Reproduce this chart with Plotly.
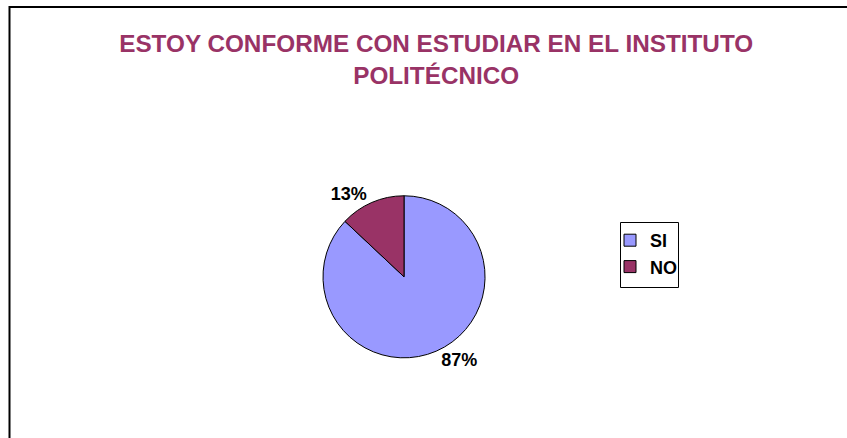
import plotly.graph_objects as go

labels = ["SI", "NO"]
values = [87, 13]
colors = ["#9999FF", "#993366"]
title_lines = ["ESTOY CONFORME CON ESTUDIAR EN EL INSTITUTO", "POLITÉCNICO"]

W, H = 847, 438
FONT = "Liberation Sans, Arial, sans-serif"

fig = go.Figure()
fig.add_trace(go.Pie(
    labels=labels,
    values=values,
    sort=False,
    direction="clockwise",
    rotation=0,
    marker=dict(colors=colors, line=dict(color="black", width=1)),
    textinfo="percent",
    textposition="outside",
    textfont=dict(family=FONT, size=18, color="black", weight="bold"),
    domain=dict(x=[0.381, 0.573], y=[0.183, 0.553]),
    showlegend=True,
    hoverinfo="label+percent",
))

fig.update_layout(
    width=W, height=H,
    margin=dict(l=0, r=0, t=0, b=0),
    paper_bgcolor="white",
    plot_bgcolor="white",
    title=dict(
        text="<br>".join(title_lines),
        x=0.515, xanchor="center",
        y=1 - 52 / H, yanchor="top",
        font=dict(family=FONT, size=24.3, color="#993366", weight="bold"),
    ),
    legend=dict(
        x=610 / W, y=1 - 222 / H, xanchor="left", yanchor="top",
        borderwidth=0,
        font=dict(family=FONT, size=18, color="black", weight="bold"),
        itemwidth=30,
        bgcolor="rgba(0,0,0,0)",
    ),
    shapes=[
        dict(
            type="rect", xref="paper", yref="paper",
            x0=9.5 / W, x1=1.1, y0=-0.1, y1=1 - 7 / H,
            line=dict(color="black", width=2),
            fillcolor="rgba(0,0,0,0)",
        ),
        dict(
            type="rect", xref="paper", yref="paper",
            x0=620.5 / W, x1=678.5 / W, y0=1 - 287.5 / H, y1=1 - 222.5 / H,
            line=dict(color="black", width=1),
            fillcolor="rgba(0,0,0,0)",
        ),
    ],
)

fig.write_html(
    "out.html",
    config={"displayModeBar": False},
    post_script="document.body.style.margin='0';",
)
